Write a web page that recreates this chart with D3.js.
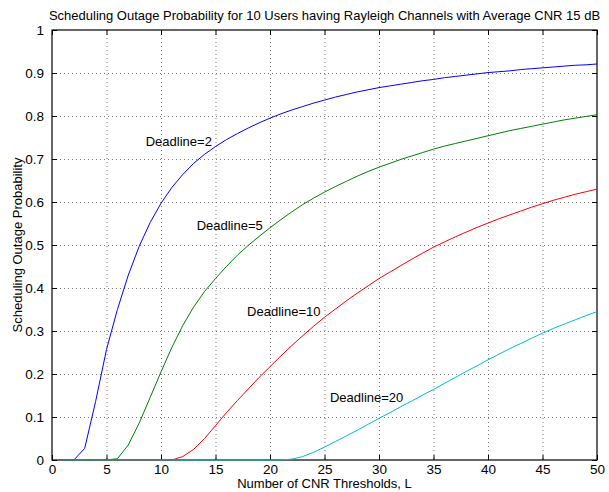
<!DOCTYPE html>
<html>
<head>
<meta charset="utf-8">
<script src="https://cdn.jsdelivr.net/npm/d3@7"></script>
<style>
  body { margin: 0; background: #fff; }
  text { font-family: "Liberation Sans", Arial, Helvetica, sans-serif; }
</style>
</head>
<body>
<div id="chart-area"></div>
<script>
// outage probability vs number of CNR thresholds L = 1..50
var thresholds = d3.range(1, 51)

var deadline2 = [0, 0, 0.027, 0.136, 0.257, 0.35, 0.43, 0.497, 0.552, 0.597,
    0.634, 0.664, 0.69, 0.711, 0.729, 0.745, 0.759, 0.772, 0.784, 0.795,
    0.805, 0.814, 0.822, 0.83, 0.837, 0.844, 0.85, 0.856, 0.861, 0.866,
    0.87, 0.874, 0.878, 0.882, 0.885, 0.889, 0.892, 0.895, 0.898, 0.901,
    0.903, 0.905, 0.908, 0.91, 0.912, 0.914, 0.916, 0.918, 0.919, 0.921]

var deadline5 = [0, 0, 0, 0, 0, 0.003, 0.035, 0.086, 0.145, 0.205,
    0.262, 0.313, 0.356, 0.392, 0.422, 0.45, 0.476, 0.499, 0.52, 0.54,
    0.559, 0.577, 0.594, 0.609, 0.623, 0.636, 0.648, 0.66, 0.671, 0.681,
    0.69, 0.699, 0.707, 0.715, 0.723, 0.73, 0.736, 0.742, 0.748, 0.754,
    0.76, 0.766, 0.771, 0.776, 0.781, 0.786, 0.791, 0.795, 0.799, 0.803]

var deadline10 = [0, 0, 0, 0, 0, 0, 0, 0, 0, 0,
    0, 0.008, 0.025, 0.05, 0.08, 0.11, 0.138, 0.165, 0.192, 0.217,
    0.242, 0.266, 0.289, 0.311, 0.332, 0.351, 0.37, 0.388, 0.405, 0.422,
    0.437, 0.452, 0.467, 0.481, 0.495, 0.507, 0.519, 0.53, 0.541, 0.551,
    0.561, 0.57, 0.579, 0.588, 0.596, 0.604, 0.611, 0.618, 0.624, 0.63]

var deadline20 = [0, 0, 0, 0, 0, 0, 0, 0, 0, 0,
    0, 0, 0, 0, 0, 0, 0, 0, 0, 0,
    0, 0.002, 0.008, 0.018, 0.03, 0.043, 0.056, 0.069, 0.083, 0.097,
    0.11, 0.124, 0.137, 0.151, 0.164, 0.178, 0.192, 0.206, 0.219, 0.233,
    0.246, 0.259, 0.271, 0.283, 0.295, 0.306, 0.316, 0.326, 0.336, 0.345]

var seriesNames = ["Deadline=2", "Deadline=5", "Deadline=10", "Deadline=20"]
var seriesColors = ["#0000ff", "#008000", "#ff0000", "#00bfbf"]
// label anchor positions in data units (L, probability)
var labelL = [8.6, 13.27, 17.9, 25.5]
var labelP = [0.73, 0.535, 0.336, 0.135]

var xTicks = d3.range(0, 51, 5)
var yTicks = d3.range(0, 11).map(d => d / 10)

var margin = { left: 52, right: 12, top: 30, bottom: 32 };
var width = 609 - margin.left - margin.right,
    height = 492 - margin.top - margin.bottom;

var svg = d3.select("#chart-area")
    .append("svg")
        .attr("width", 609)
        .attr("height", 492)

var g = svg.append("g")
    .attr("transform", "translate(" + margin.left + "," + margin.top + ")");

var x = d3.scaleLinear().domain([0, 50]).range([0, width])
var y = d3.scaleLinear().domain([0, 1]).range([height, 0])

// dotted grid
var grid = g.append("g").attr("class", "grid")
grid.selectAll("line.gx")
    .data(xTicks.slice(1, -1))
    .join(enter => enter.append("line").attr("class", "gx"))
        .attr("x1", d => x(d) + 0.5).attr("x2", d => x(d) + 0.5)
        .attr("y1", 0).attr("y2", height)
grid.selectAll("line.gy")
    .data(yTicks.slice(1, -1))
    .join(enter => enter.append("line").attr("class", "gy"))
        .attr("y1", d => y(d) + 0.5).attr("y2", d => y(d) + 0.5)
        .attr("x1", 0).attr("x2", width)
grid.selectAll("line")
    .attr("stroke", "#555")
    .attr("stroke-width", 0.8)
    .attr("stroke-dasharray", "1,3")

// axes, ticks pointing inward, mirrored on top and right
var xAxis = d3.axisBottom(x).tickValues(xTicks).tickSizeInner(-5).tickSizeOuter(0).tickPadding(4)
var yAxis = d3.axisLeft(y).tickValues(yTicks).tickSizeInner(-5).tickSizeOuter(0).tickPadding(8)
    .tickFormat(d => d === 0 ? "0" : d === 1 ? "1" : d3.format(".1f")(d))

g.append("g")
    .attr("transform", "translate(0," + height + ")")
    .call(xAxis)
g.append("g")
    .call(yAxis)
g.append("g")
    .call(d3.axisTop(x).tickValues(xTicks).tickSizeInner(-5).tickSizeOuter(0).tickFormat(""))
g.append("g")
    .attr("transform", "translate(" + width + ",0)")
    .call(d3.axisRight(y).tickValues(yTicks).tickSizeInner(-5).tickSizeOuter(0).tickFormat(""))

g.selectAll(".domain").remove()
g.selectAll(".tick line").attr("stroke", "#000")
g.selectAll(".tick text")
    .attr("fill", "#000")
    .style("font-size", "13.5px")

// box
g.append("rect")
    .attr("x", 0).attr("y", 0)
    .attr("width", width).attr("height", height)
    .attr("fill", "none")
    .attr("stroke", "#000")
    .attr("stroke-width", 1.2)

// curves
var line = d3.line()
    .x((d, i) => x(thresholds[i]))
    .y(d => y(d))

var allSeries = [deadline2, deadline5, deadline10, deadline20]
allSeries.forEach(function(s, i){
    g.append("path")
        .datum(s)
        .attr("fill", "none")
        .attr("stroke", seriesColors[i])
        .attr("stroke-width", 1)
        .attr("d", line)
})

// curve labels
seriesNames.forEach(function(name, i){
    g.append("text")
        .attr("x", x(labelL[i]))
        .attr("y", y(labelP[i]))
        .style("font-size", "13px")
        .attr("fill", "#000")
        .text(name)
})

// title and axis labels
svg.append("text")
    .attr("x", margin.left + width / 2)
    .attr("y", 20)
    .attr("text-anchor", "middle")
    .style("font-size", "13px")
    .text("Scheduling Outage Probability for 10 Users having Rayleigh Channels with Average CNR 15 dB")

svg.append("text")
    .attr("x", margin.left + width / 2)
    .attr("y", 488)
    .attr("text-anchor", "middle")
    .style("font-size", "13px")
    .text("Number of CNR Thresholds, L")

svg.append("text")
    .attr("transform", "translate(22," + (margin.top + height / 2) + ") rotate(-90)")
    .attr("text-anchor", "middle")
    .style("font-size", "13px")
    .text("Scheduling Outage Probability")
</script>
</body>
</html>
